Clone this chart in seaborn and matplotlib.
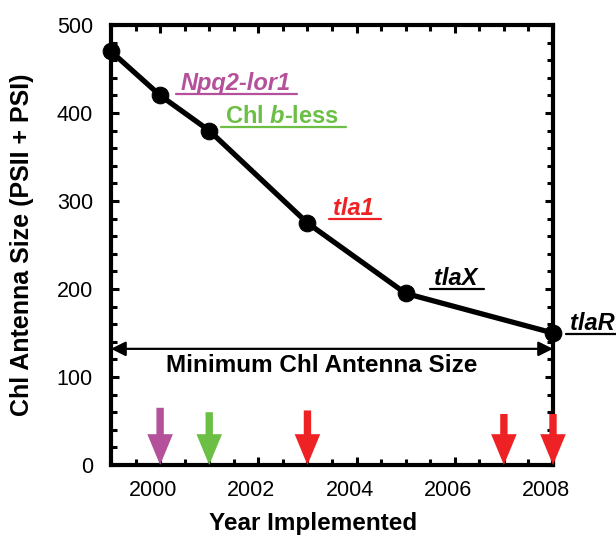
import matplotlib
matplotlib.use("Agg")
import matplotlib.pyplot as plt
from matplotlib.lines import Line2D
from matplotlib.ticker import MultipleLocator
from matplotlib.transforms import ScaledTranslation
import seaborn as sns
import pandas as pd

# ---- data ----
years = [1999, 2000, 2001, 2003, 2005, 2008]
antenna_size = [470, 420, 380, 275, 195, 150]

labels = ["Npq2-lor1", "Chl $b$-less", "tla1", "tlaX", "tlaR"]
label_x = [2000.41, 2001.33, 2003.53, 2005.57, 2008.34]
label_y = [426, 389, 284, 204, 153]
label_colors = ["#b5509b", "#6cbf45", "#ee2224", "black", "black"]
label_italic = [True, False, True, True, True]

arrow_years = [2000, 2001, 2003, 2007, 2008]
arrow_tops = [65, 60, 62, 58, 58]
arrow_colors = ["#b5509b", "#6cbf45", "#ee2224", "#ee2224", "#ee2224"]

min_antenna = 132
min_label = "Minimum Chl Antenna Size"
xticks = [2000, 2002, 2004, 2006, 2008]
yticks = [0, 100, 200, 300, 400, 500]

sns.set_theme(style="ticks")
plt.rcParams["font.family"] = ["Liberation Sans", "DejaVu Sans"]
plt.rcParams["mathtext.fontset"] = "custom"
plt.rcParams["mathtext.it"] = "Liberation Sans:bold:italic"
plt.rcParams["mathtext.rm"] = "Liberation Sans:bold"
plt.rcParams["text.color"] = "black"
plt.rcParams["axes.labelcolor"] = "black"
plt.rcParams["xtick.color"] = "black"
plt.rcParams["ytick.color"] = "black"
plt.rcParams["xtick.labelcolor"] = "black"
plt.rcParams["ytick.labelcolor"] = "black"

fig = plt.figure(figsize=(6.16, 5.35), dpi=100)
ax = fig.add_axes([111 / 616, 1 - 465 / 535, (553 - 111) / 616, (465 - 25) / 535])

df = pd.DataFrame({"year": years, "size": antenna_size})
sns.lineplot(data=df, x="year", y="size", color="black", lw=3.8, marker="o",
             markersize=12, markeredgecolor="black", ax=ax, clip_on=False, zorder=5)

ax.set_xlim(1999, 2008)
ax.set_ylim(0, 500)
ax.set_xticks(xticks)
ax.set_yticks(yticks)
ax.xaxis.set_minor_locator(MultipleLocator(0.5))
ax.yaxis.set_minor_locator(MultipleLocator(20))
ax.tick_params(which="both", direction="in", top=True, right=True, width=2.2,
               colors="black", labelcolor="black")
ax.tick_params(which="major", length=6, labelsize=15.5)
ax.tick_params(axis="y", which="major", pad=13)
ax.tick_params(axis="x", which="major", pad=11)
ax.tick_params(which="minor", length=4)
for s in ax.spines.values():
    s.set_linewidth(3)
    s.set_color("black")

shift = ScaledTranslation(-7 / 100, 0, fig.dpi_scale_trans)
for lbl in ax.get_xticklabels():
    lbl.set_transform(lbl.get_transform() + shift)

ax.set_xlabel("Year Implemented", fontsize=17.5, fontweight="bold", color="black")
ax.xaxis.set_label_coords((313 - 111) / 442, (465 - 512) / 440)
ax.set_ylabel("Chl Antenna Size (PSII + PSI)", fontsize=18, fontweight="bold",
              labelpad=16, color="black")

# arrows near the axis
for yr, top, c in zip(arrow_years, arrow_tops, arrow_colors):
    ax.arrow(yr, top, 0, -top, width=0.15, head_width=0.52, head_length=35,
             length_includes_head=True, color=c, lw=0, zorder=4, clip_on=False)

# minimum antenna size double arrow
ax.annotate("", xy=(1999, min_antenna), xytext=(2008, min_antenna),
            arrowprops=dict(arrowstyle="<|-|>", lw=1.6, color="black",
                            mutation_scale=22, shrinkA=0, shrinkB=0))
ax.text(2003.3, min_antenna - 6, min_label, ha="center", va="top",
        fontsize=17.5, fontweight="bold", color="black")

texts = []
for lab, x, y, c, it in zip(labels, label_x, label_y, label_colors, label_italic):
    t = ax.text(x, y, lab, color=c, fontsize=17, fontweight="bold",
                style="italic" if it else "normal", ha="left", va="baseline",
                clip_on=False)
    texts.append((t, c))

fig.canvas.draw()
for t, c in texts:
    bb = t.get_window_extent()
    xb, yb = ax.transData.transform((t.get_position()))
    x1 = min(bb.x1 + 7, 616)
    fig.add_artist(Line2D([bb.x0 - 4, x1], [yb - 4, yb - 4], transform=None,
                          color=c, lw=1.6))

fig.savefig("out.png", dpi=100)
